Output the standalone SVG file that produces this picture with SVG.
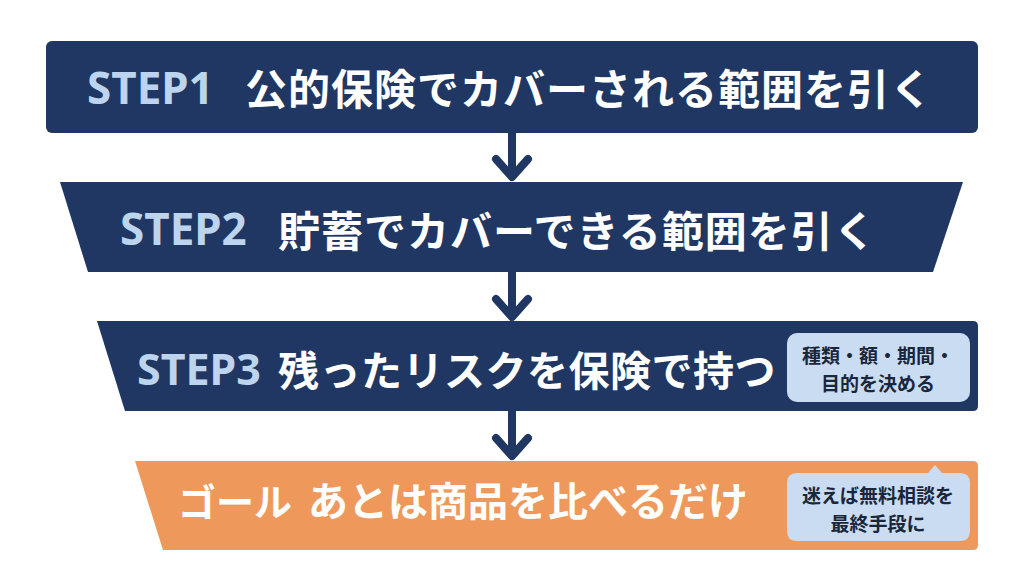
<svg xmlns="http://www.w3.org/2000/svg" width="1024" height="572" viewBox="0 0 1024 572">
<defs>
<style>
.navy{fill:#1f3762}
.orange{fill:#ee995b}
.step{font-family:"Noto Sans","Noto Sans CJK JP",sans-serif;font-weight:700;fill:#bdd4ef;dominant-baseline:central}
.main{font-family:"Noto Sans CJK JP",sans-serif;font-weight:700;fill:#ffffff;dominant-baseline:central}
.note{font-family:"Noto Sans CJK JP",sans-serif;font-weight:700;fill:#1a2639;font-size:19px;text-anchor:middle;dominant-baseline:central}
.callout{fill:#c9dcf1}
.conn{fill:none;stroke:#1f3762;stroke-width:8;stroke-linecap:round;stroke-linejoin:round}
</style>
</defs>
<rect width="1024" height="572" fill="#ffffff"/>
<g id="connectors">
<path class="conn" d="M512 133V176M496 159L512 177L528 159"/>
<path class="conn" d="M512 272V316M496 299L512 317L528 299"/>
<path class="conn" d="M512 411V455M496 438L512 456L528 438"/>
</g>
<g id="step1">
<rect class="navy" x="46" y="41" width="932" height="92" rx="6"/>
<text class="step" x="87" y="87" font-size="44">STEP1</text>
<text class="main" x="245" y="86" font-size="42" letter-spacing="1">公的保険でカバーされる範囲を引く</text>
</g>
<g id="step2">
<path class="navy" d="M60 182H963L933 272H88Z"/>
<text class="step" x="120" y="228" font-size="44">STEP2</text>
<text class="main" x="278" y="228" font-size="42" letter-spacing="1">貯蓄でカバーできる範囲を引く</text>
</g>
<g id="step3">
<path class="navy" d="M97 321H973Q978 321 978 326V406Q978 411 973 411H125Z"/>
<text class="step" x="137" y="368" font-size="43">STEP3</text>
<text class="main" x="278" y="368" font-size="41" letter-spacing="0.5">残ったリスクを保険で持つ</text>
<rect class="callout" x="787" y="333" width="183" height="69" rx="10"/>
<text class="note" x="878" y="354">種類・額・期間・</text>
<text class="note" x="878" y="382">目的を決める</text>
</g>
<g id="goal">
<path class="orange" d="M135 461H973Q978 461 978 466V545Q978 550 973 550H163Z"/>
<text class="main" x="178" y="499" font-size="38" letter-spacing="0">ゴール</text>
<text class="main" x="308" y="499" font-size="40" letter-spacing="0">あとは商品を比べるだけ</text>
<path class="callout" d="M797 473H928L935 465L942 473H960Q970 473 970 483V531Q970 541 960 541H797Q787 541 787 531V483Q787 473 797 473Z"/>
<text class="note" x="878" y="494">迷えば無料相談を</text>
<text class="note" x="878" y="522">最終手段に</text>
</g>
</svg>
